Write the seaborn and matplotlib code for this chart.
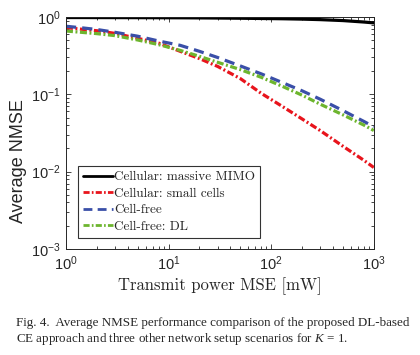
import numpy as np
import pandas as pd
import matplotlib
matplotlib.use("Agg")
import matplotlib.pyplot as plt
import seaborn as sns

# transmit power [mW] and average NMSE per scenario
power = [1, 1.5, 2, 3, 5, 8, 13, 20, 30, 50, 80, 130, 200, 300, 500, 800, 1000]
nmse_massive = [0.985, 0.985, 0.984, 0.983, 0.982, 0.98, 0.978, 0.975, 0.971, 0.965,
                0.958, 0.95, 0.94, 0.926, 0.9, 0.862, 0.84]
nmse_small = [0.73, 0.69, 0.665, 0.615, 0.53, 0.46, 0.36, 0.29, 0.23, 0.16,
              0.103, 0.069, 0.048, 0.034, 0.0213, 0.014, 0.0113]
nmse_cf = [0.76, 0.72, 0.69, 0.635, 0.565, 0.49, 0.43, 0.36, 0.30, 0.233,
           0.184, 0.141, 0.111, 0.0865, 0.0616, 0.0446, 0.038]
nmse_cf_dl = [0.66, 0.63, 0.61, 0.575, 0.505, 0.44, 0.37, 0.31, 0.26, 0.209,
              0.166, 0.126, 0.0975, 0.0746, 0.0543, 0.040, 0.034]

labels = ["Cellular: massive MIMO", "Cellular: small cells", "Cell-free", "Cell-free: DL"]
colors = ["#000000", "#e8141c", "#3a4fa8", "#6db52e"]
dashes = ["", (2.2, 0.8, 0.6, 0.8), (3.2, 1.9), (2.2, 0.8, 0.6, 0.8)]

df = pd.concat([
    pd.DataFrame({"power": power, "nmse": vals, "scenario": lab})
    for lab, vals in zip(labels, [nmse_massive, nmse_small, nmse_cf, nmse_cf_dl])
])

sns.set_style("ticks")
plt.rcParams["mathtext.fontset"] = "custom"
plt.rcParams["mathtext.rm"] = "Liberation Sans"
plt.rcParams["mathtext.it"] = "Liberation Serif:italic"
plt.rcParams["font.family"] = ["Liberation Sans", "DejaVu Sans"]

fig = plt.figure(figsize=(4.2, 3.55), dpi=100)
ax = fig.add_axes([0.157, 0.299, 0.733, 0.653])

sns.lineplot(data=df, x="power", y="nmse", hue="scenario", style="scenario",
             hue_order=labels, style_order=labels, palette=colors,
             dashes=dict(zip(labels, dashes)), linewidth=2.3, ax=ax)

ax.set_xscale("log")
ax.set_yscale("log")
ax.set_xlim(1, 1000)
ax.set_ylim(1e-3, 1)
ax.set_yticks([1e-3, 1e-2, 1e-1, 1])
ax.tick_params(which="both", direction="in", top=True, right=True, labelsize=10.5, width=0.6)
ax.tick_params(which="major", length=3.5, pad=4)
ax.tick_params(which="minor", length=2)
for s in ax.spines.values():
    s.set_linewidth(0.7)

ax.set_ylabel("Average NMSE", fontsize=13)
ax.yaxis.set_label_coords(-0.128, 0.38)
ax.set_xlabel("Transmit power MSE [mW]", fontsize=12, family="cmr10", labelpad=3)

leg = ax.legend(loc="lower left", bbox_to_anchor=(0.018, 0.02), frameon=True, fancybox=False,
                edgecolor="black", handlelength=2.3, handletextpad=0.1, borderpad=0.35,
                labelspacing=0.33, prop={"family": "cmr10", "size": 9.5})
leg.get_frame().set_linewidth(0.8)
for h in leg.get_lines():
    h.set_linewidth(2.0)

fig.text(0.038, 0.065, "Fig. 4.  Average NMSE performance comparison of the proposed DL-based\n"
         "CE approach and three other network setup scenarios for $K$ = 1.",
         fontsize=9.4, family="Liberation Serif", va="center", ha="left", linespacing=1.2)

fig.savefig("out.png", dpi=100)
